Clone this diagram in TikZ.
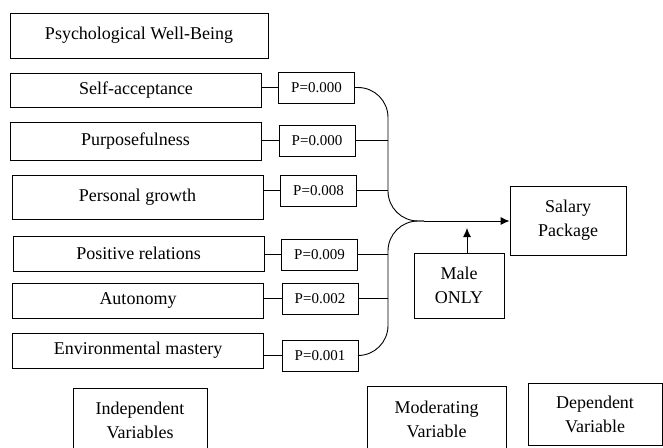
\documentclass[tikz,border=0pt]{standalone}
\usepackage{fontspec}
\setmainfont{Liberation Serif}
\usetikzlibrary{arrows.meta}
\begin{document}
\begin{tikzpicture}[x=1pt,y=-1pt,
  box/.style={draw=black, line width=0.9pt, inner sep=0pt, align=center, font=\fontsize{18}{24}\selectfont},
  factor/.style={box, minimum width=251pt, minimum height=35pt},
  pval/.style={draw=black, line width=0.9pt, inner sep=0pt, minimum width=76pt, minimum height=31pt, font=\fontsize{15}{18}\selectfont},
  link/.style={line width=0.9pt}]
\useasboundingbox (0,0) rectangle (663,447);
\node [box, minimum width=258pt, minimum height=45pt] (pwb) at (139,35.5) {Psychological Well-Being};
\node [factor, minimum height=34pt] (sa) at (136,90) {Self-acceptance};
\node [factor, minimum height=38pt] (pu) at (135.5,141) {Purposefulness};
\node [factor, minimum height=44pt] (pg) at (137.5,197) {Personal growth};
\node [factor] (pr) at (138.5,253.5) {Positive relations};
\node [factor] (au) at (138,300.5) {Autonomy};
\node [factor] (em) at (138,350.5) {Environmental mastery};
\node [pval] (p1) at (316.5,87.5) {P=0.000};
\node [pval] (p2) at (317,140.5) {P=0.000};
\node [pval] (p3) at (318.5,190.5) {P=0.008};
\node [pval] (p4) at (319.5,254.5) {P=0.009};
\node [pval] (p5) at (320,298.5) {P=0.002};
\node [pval] (p6) at (320,355.5) {P=0.001};
\node [box, minimum width=116pt, minimum height=69pt] (sal) at (568,220.5) {Salary\\Package};
\node [box, minimum width=90pt, minimum height=65pt] (mal) at (459,285.5) {Male\\ONLY};
\node [box, minimum width=134pt, minimum height=64pt] (ind) at (140,420) {Independent\\Variables};
\node [box, minimum width=139pt, minimum height=66pt] (mod) at (436.5,419) {Moderating\\Variable};
\node [box, minimum width=134pt, minimum height=62pt] (dep) at (595,414) {Dependent\\Variable};
\coordinate (trk) at (388,221);
\coordinate (jn) at (424,221);
\coordinate (mtip) at (467,228);
\draw [link] (p1.west) -- (p1.west -| sa.east);
\draw [link] (p2.west) -- (p2.west -| pu.east);
\draw [link] (p3.west) -- (p3.west -| pg.east);
\draw [link] (p4.west) -- (p4.west -| pr.east);
\draw [link] (p5.west) -- (p5.west -| au.east);
\draw [link] (p6.west) -- (p6.west -| em.east);
\draw [link, rounded corners=30pt] (p1.east) -| (trk) -- (jn);
\draw [link, rounded corners=30pt] (p6.east) -| (trk) -- (jn);
\draw [link] (p2.east) -- (p2.east -| trk);
\draw [link] (p3.east) -- (p3.east -| trk);
\draw [link] (p4.east) -- (p4.east -| trk);
\draw [link] (p5.east) -- (p5.east -| trk);
\draw [link, -{Latex[length=9pt,width=8pt]}] (jn) -- (sal.west |- jn);
\draw [link, -{Latex[length=9pt,width=8pt]}] (mtip |- mal.north) -- (mtip);
\end{tikzpicture}
\end{document}
